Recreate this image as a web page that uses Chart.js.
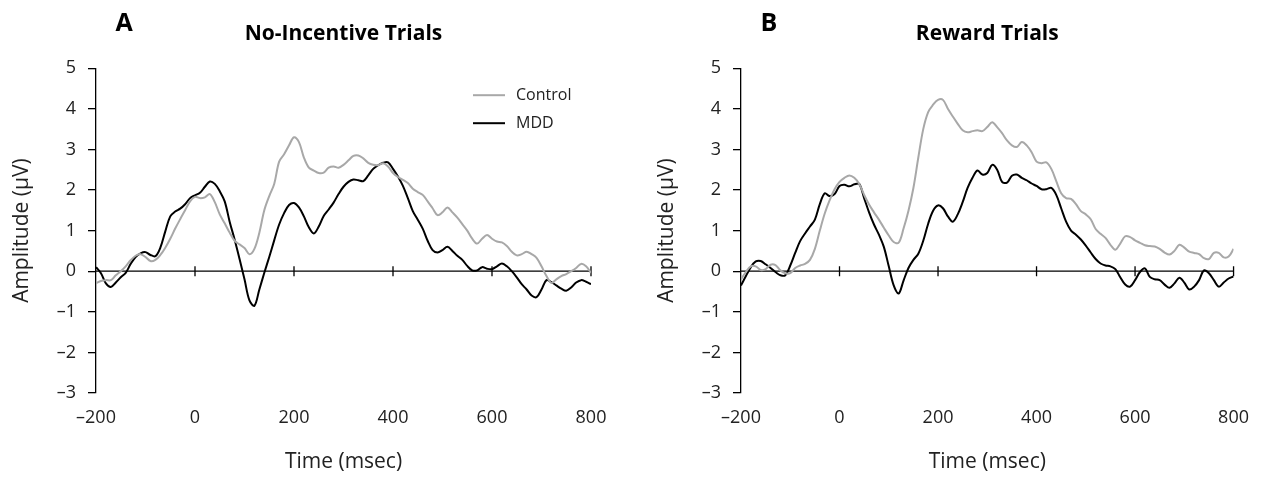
<!DOCTYPE html>
<html>
<head>
<meta charset="utf-8">
<script src="https://cdn.jsdelivr.net/npm/chart.js@4.4.0/dist/chart.umd.min.js"></script>
<style>
body { margin:0; background:#fff; width:1263px; height:482px; overflow:hidden; position:relative; }
canvas { position:absolute; top:0; }
#chartA { left:0; }
#chartB { left:645px; }
</style>
</head>
<body>
<canvas id="chartA" width="632" height="482"></canvas>
<canvas id="chartB" width="618" height="482"></canvas>
<script>
// time in msec, 10 ms steps
var times = [-200,-190,-180,-170,-160,-150,-140,-130,-120,-110,-100,-90,-80,-70,-60,-50,-40,-30,-20,-10,
  0,10,20,30,40,50,60,70,80,90,100,110,120,130,140,150,160,170,180,190,
  200,210,220,230,240,250,260,270,280,290,300,310,320,330,340,350,360,370,380,390,
  400,410,420,430,440,450,460,470,480,490,500,510,520,530,540,550,560,570,580,590,
  600,610,620,630,640,650,660,670,680,690,700,710,720,730,740,750,760,770,780,790,800];

var xTicks = [-200, 0, 200, 400, 600, 800];
var yTicks = [-3, -2, -1, 0, 1, 2, 3, 4, 5];

// A: no-incentive trials
var noIncControl = [-0.30,-0.24,-0.22,-0.22,-0.10,0.00,0.12,0.27,0.38,0.42,0.35,0.25,0.28,0.40,0.58,0.80,1.05,1.28,1.50,1.72,
  1.83,1.80,1.82,1.90,1.70,1.40,1.18,0.95,0.75,0.66,0.57,0.42,0.55,0.95,1.50,1.85,2.15,2.70,2.88,3.10,
  3.30,3.18,2.80,2.55,2.48,2.42,2.43,2.55,2.58,2.55,2.62,2.73,2.84,2.85,2.78,2.67,2.62,2.61,2.66,2.58,
  2.42,2.32,2.25,2.17,2.03,1.95,1.88,1.72,1.55,1.38,1.45,1.57,1.45,1.32,1.16,1.00,0.80,0.68,0.80,0.89,
  0.80,0.73,0.71,0.62,0.48,0.39,0.42,0.48,0.42,0.33,0.12,-0.12,-0.29,-0.20,-0.12,-0.07,0.00,0.08,0.18,0.12,-0.04];
var noIncMDD = [0.10,-0.05,-0.30,-0.39,-0.28,-0.15,-0.04,0.18,0.35,0.44,0.47,0.40,0.37,0.58,0.98,1.35,1.47,1.54,1.65,1.80,
  1.87,1.93,2.08,2.21,2.15,1.97,1.72,1.22,0.78,0.30,-0.20,-0.72,-0.85,-0.45,-0.04,0.35,0.76,1.15,1.43,1.63,
  1.68,1.57,1.35,1.08,0.93,1.10,1.36,1.52,1.69,1.90,2.08,2.20,2.26,2.24,2.22,2.36,2.52,2.61,2.67,2.68,
  2.52,2.33,2.10,1.80,1.48,1.27,1.05,0.75,0.52,0.46,0.52,0.60,0.50,0.38,0.28,0.13,0.02,0.02,0.10,0.06,
  0.05,0.12,0.19,0.12,0.00,-0.15,-0.32,-0.45,-0.60,-0.64,-0.45,-0.22,-0.27,-0.35,-0.43,-0.48,-0.40,-0.28,-0.22,-0.26,-0.32];

// B: reward trials
var rewControl = [-0.20,-0.02,0.12,0.12,0.03,0.05,0.16,0.15,0.02,-0.05,-0.05,0.08,0.14,0.18,0.28,0.55,1.00,1.42,1.75,2.02,
  2.20,2.30,2.36,2.30,2.15,1.88,1.64,1.45,1.27,1.07,0.88,0.72,0.70,1.05,1.49,2.05,2.80,3.50,3.92,4.10,
  4.22,4.22,4.00,3.81,3.63,3.47,3.42,3.45,3.47,3.45,3.55,3.67,3.55,3.40,3.22,3.10,3.06,3.18,3.10,2.93,
  2.70,2.66,2.68,2.52,2.22,1.92,1.80,1.78,1.65,1.48,1.40,1.28,1.04,0.92,0.82,0.65,0.53,0.68,0.86,0.84,
  0.76,0.70,0.64,0.62,0.61,0.55,0.46,0.41,0.50,0.65,0.58,0.48,0.45,0.42,0.32,0.30,0.45,0.45,0.34,0.36,0.55];
var rewMDD = [-0.35,-0.12,0.10,0.24,0.25,0.17,0.08,-0.02,-0.10,-0.10,0.14,0.45,0.74,0.93,1.10,1.27,1.65,1.92,1.85,1.90,
  2.10,2.13,2.09,2.14,2.15,1.80,1.45,1.15,0.90,0.60,0.12,-0.35,-0.55,-0.23,0.08,0.28,0.43,0.75,1.17,1.49,
  1.62,1.55,1.35,1.22,1.40,1.70,2.05,2.30,2.48,2.38,2.42,2.62,2.50,2.20,2.18,2.35,2.38,2.30,2.24,2.16,
  2.10,2.02,2.02,2.05,1.88,1.55,1.22,1.00,0.90,0.78,0.63,0.46,0.30,0.19,0.14,0.12,0.05,-0.15,-0.33,-0.38,
  -0.22,-0.02,0.07,-0.14,-0.20,-0.22,-0.33,-0.41,-0.30,-0.16,-0.28,-0.45,-0.38,-0.22,0.02,-0.05,-0.22,-0.38,-0.28,-0.18,-0.13];

Chart.defaults.font.family = "'Open Sans', sans-serif";
Chart.defaults.color = '#222';

function pts(vals) {
  return times.map(function (t, i) { return { x: t, y: vals[i] }; });
}

function dash(v) {
  return String(v).replace('-', '\u2013');
}

// zero line with crossing ticks, panel letter, legend
var decor = {
  id: 'decor',
  beforeDatasetsDraw: function (chart) {
    var ctx = chart.ctx, x = chart.scales.x, y = chart.scales.y;
    var y0 = y.getPixelForValue(0);
    ctx.save();
    ctx.strokeStyle = '#000';
    ctx.lineWidth = 1.3;
    ctx.beginPath();
    ctx.moveTo(x.left, y0);
    ctx.lineTo(x.right, y0);
    xTicks.forEach(function (t) {
      if (t > xTicks[0]) {
        var px = x.getPixelForValue(t);
        ctx.moveTo(px, y0 - 5);
        ctx.lineTo(px, y0 + 5);
      }
    });
    ctx.stroke();
    ctx.restore();
  },
  afterDraw: function (chart, args, opts) {
    var ctx = chart.ctx, area = chart.chartArea;
    ctx.save();
    ctx.fillStyle = '#000';
    ctx.font = "bold 25px 'Open Sans', sans-serif";
    ctx.textAlign = 'center';
    ctx.textBaseline = 'middle';
    ctx.fillText(opts.letter, area.left + 28, 24);
    if (opts.legend) {
      ctx.font = "16px 'Open Sans', sans-serif";
      ctx.textAlign = 'left';
      chart.data.datasets.forEach(function (ds, i) {
        var ly = area.top + 27 + i * 28;
        ctx.strokeStyle = ds.borderColor;
        ctx.lineWidth = 2;
        ctx.beginPath();
        ctx.moveTo(area.right - 118, ly);
        ctx.lineTo(area.right - 86, ly);
        ctx.stroke();
        ctx.fillStyle = '#222';
        ctx.fillText(ds.label, area.right - 75, ly);
      });
    }
    ctx.restore();
  }
};

function makeChart(id, letter, title, ctl, mdd, legend, rightPad) {
  return new Chart(document.getElementById(id), {
    type: 'line',
    data: {
      datasets: [
        { label: 'Control', data: pts(ctl), borderColor: '#a8a8a8', borderWidth: 2, pointRadius: 0, tension: 0.35 },
        { label: 'MDD', data: pts(mdd), borderColor: '#000', borderWidth: 2, pointRadius: 0, tension: 0.35 }
      ]
    },
    options: {
      responsive: false,
      animation: false,
      layout: { padding: { left: 0, right: rightPad, top: 0, bottom: 0 } },
      plugins: {
        legend: { display: false },
        tooltip: { enabled: false },
        title: {
          display: true, text: title, fullSize: false, color: '#000',
          font: { size: 21, weight: 'bold' },
          padding: { top: 21, bottom: 22 }
        },
        decor: { letter: letter, legend: legend }
      },
      scales: {
        x: {
          type: 'linear', min: xTicks[0], max: xTicks[xTicks.length - 1],
          border: { display: false },
          grid: { display: false, drawTicks: false },
          ticks: { stepSize: 200, padding: 14, font: { size: 18 }, callback: dash },
          title: { display: true, text: 'Time (msec)', font: { size: 21 }, padding: { bottom: 7 } },
          afterFit: function (s) { s.height = 89; }
        },
        y: {
          min: yTicks[0], max: yTicks[yTicks.length - 1],
          border: { display: true, color: '#000', width: 1.3 },
          grid: { drawOnChartArea: false, drawTicks: true, tickLength: 8, color: '#000', lineWidth: 1.3 },
          ticks: { stepSize: 1, padding: 12, font: { size: 18 }, callback: dash },
          title: { display: true, text: 'Amplitude (\u03bcV)', font: { size: 21 }, padding: { top: 9 } },
          afterFit: function (s) { s.width = 96; }
        }
      }
    },
    plugins: [decor]
  });
}

makeChart('chartA', 'A', 'No-Incentive Trials', noIncControl, noIncMDD, true, 41);
makeChart('chartB', 'B', 'Reward Trials', rewControl, rewMDD, false, 25);
</script>
</body>
</html>
